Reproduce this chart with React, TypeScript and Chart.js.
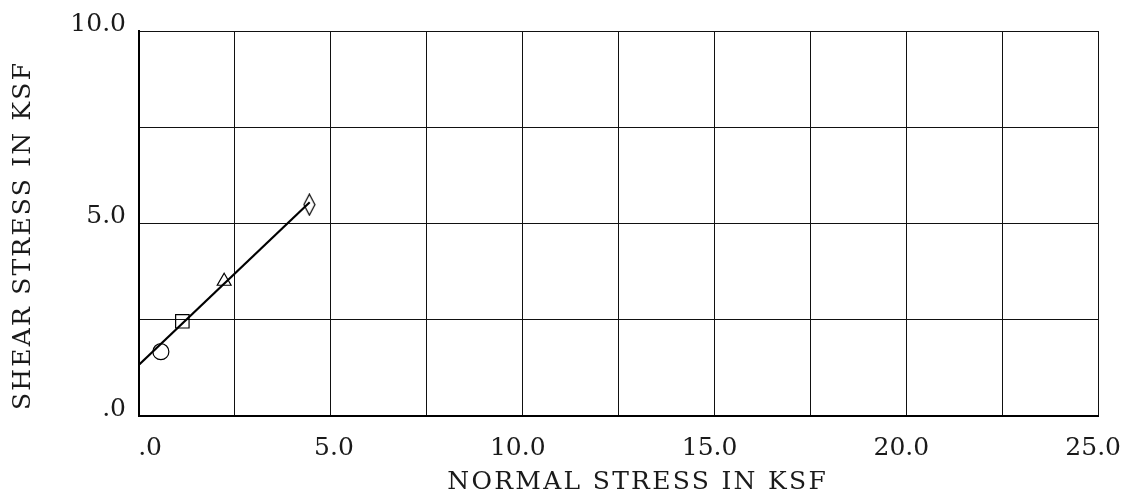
import React, { useEffect, useRef } from "react";
import { Chart, registerables } from "chart.js";

Chart.register(...registerables);

// ---- data ----
const pointX: number[] = [0.57, 1.13, 2.22, 4.44];
const pointY: number[] = [1.67, 2.46, 3.5, 5.49];
const fitX: number[] = [0, 4.45];
const fitY: number[] = [1.33, 5.55];
const xTickValues: number[] = [0, 5, 10, 15, 20, 25];
const yTickValues: number[] = [0, 5, 10];
const xTitle = "NORMAL STRESS IN KSF";
const yTitle = "SHEAR STRESS IN KSF";

const FONT = '"DejaVu Serif", serif';
const INK = "#1a1a1a";

function fmt(v: number): string {
  if (v === 0) return ".0";
  return v.toFixed(1);
}

function makeDiamond(): HTMLCanvasElement {
  const c = document.createElement("canvas");
  c.width = 13;
  c.height = 23;
  const g = c.getContext("2d")!;
  g.strokeStyle = "#000";
  g.lineWidth = 1.2;
  g.beginPath();
  g.moveTo(6.5, 1);
  g.lineTo(12, 11.5);
  g.lineTo(6.5, 22);
  g.lineTo(1, 11.5);
  g.closePath();
  g.stroke();
  return c;
}

function drawSpaced(ctx: CanvasRenderingContext2D, text: string, cx: number, cy: number, spacing: number) {
  const anyCtx = ctx as any;
  if ("letterSpacing" in anyCtx) {
    anyCtx.letterSpacing = spacing + "px";
    ctx.textAlign = "center";
    ctx.fillText(text, cx + spacing / 2, cy);
    anyCtx.letterSpacing = "0px";
    return;
  }
  const chars = text.split("");
  const widths = chars.map((ch) => ctx.measureText(ch).width);
  const total = widths.reduce((a, b) => a + b, 0) + spacing * (chars.length - 1);
  let x = cx - total / 2;
  ctx.textAlign = "left";
  chars.forEach((ch, i) => {
    ctx.fillText(ch, x, cy);
    x += widths[i] + spacing;
  });
}

const titlesPlugin = {
  id: "plotterTitles",
  afterDraw(chart: any) {
    const { ctx, chartArea } = chart;
    ctx.save();
    ctx.fillStyle = INK;
    ctx.font = `25px ${FONT}`;
    ctx.textBaseline = "middle";
    drawSpaced(ctx, xTitle, (chartArea.left + chartArea.right) / 2 + 18, chartArea.bottom + 66, 2.3);
    ctx.translate(23, (chartArea.top + chartArea.bottom) / 2 + 13);
    ctx.rotate(-Math.PI / 2);
    drawSpaced(ctx, yTitle, 0, 0, 2.2);
    ctx.restore();
  },
};

export default function App() {
  const ref = useRef<HTMLCanvasElement | null>(null);

  useEffect(() => {
    if (!ref.current) return;
    const diamond = makeDiamond();
    const chart = new Chart(ref.current, {
      type: "scatter",
      data: {
        datasets: [
          {
            label: "fit",
            data: fitX.map((x, i) => ({ x, y: fitY[i] })),
            showLine: true,
            borderColor: "#000",
            borderWidth: 2.2,
            pointRadius: 0,
            fill: false,
          } as any,
          {
            label: "tests",
            data: pointX.map((x, i) => ({ x, y: pointY[i] })),
            pointStyle: ["circle", "rect", "triangle", diamond] as any,
            pointRadius: [8, 9.5, 8, 8],
            pointBorderColor: "#000",
            pointBackgroundColor: "rgba(0,0,0,0)",
            pointBorderWidth: 1.2,
            showLine: false,
          } as any,
        ],
      },
      options: {
        animation: false,
        responsive: false,
        maintainAspectRatio: false,
        layout: { padding: { left: 0, top: 31, right: 30, bottom: 0 } },
        plugins: {
          legend: { display: false },
          tooltip: { enabled: false },
        },
        scales: {
          x: {
            type: "linear",
            min: 0,
            max: 25,
            afterFit: (s: any) => {
              s.height = 83;
            },
            ticks: {
              stepSize: 2.5,
              autoSkip: false,
              maxRotation: 0,
              align: "end",
              labelOffset: 23,
              padding: 17,
              color: INK,
              font: { family: FONT, size: 25 },
              callback: (v: any) => (xTickValues.includes(Number(v)) ? fmt(Number(v)) : ""),
            },
            grid: { color: "#111", lineWidth: 1, drawTicks: false },
            border: { display: true, color: "#000", width: 2 },
            title: { display: false },
          },
          y: {
            type: "linear",
            min: 0,
            max: 10,
            afterFit: (s: any) => {
              s.width = 139;
            },
            ticks: {
              stepSize: 2.5,
              autoSkip: false,
              labelOffset: -7,
              padding: 13,
              color: INK,
              font: { family: FONT, size: 25 },
              callback: (v: any) => (yTickValues.includes(Number(v)) ? fmt(Number(v)) : ""),
            },
            grid: { color: "#111", lineWidth: 1, drawTicks: false },
            border: { display: true, color: "#000", width: 2 },
            title: { display: false },
          },
        },
      },
      plugins: [titlesPlugin],
    });
    return () => chart.destroy();
  }, []);

  return (
    <div style={{ position: "fixed", left: 0, top: 0, width: 1128, height: 499, background: "#fff" }}>
      <canvas ref={ref} width={1128} height={499} style={{ width: 1128, height: 499, display: "block" }} />
    </div>
  );
}
